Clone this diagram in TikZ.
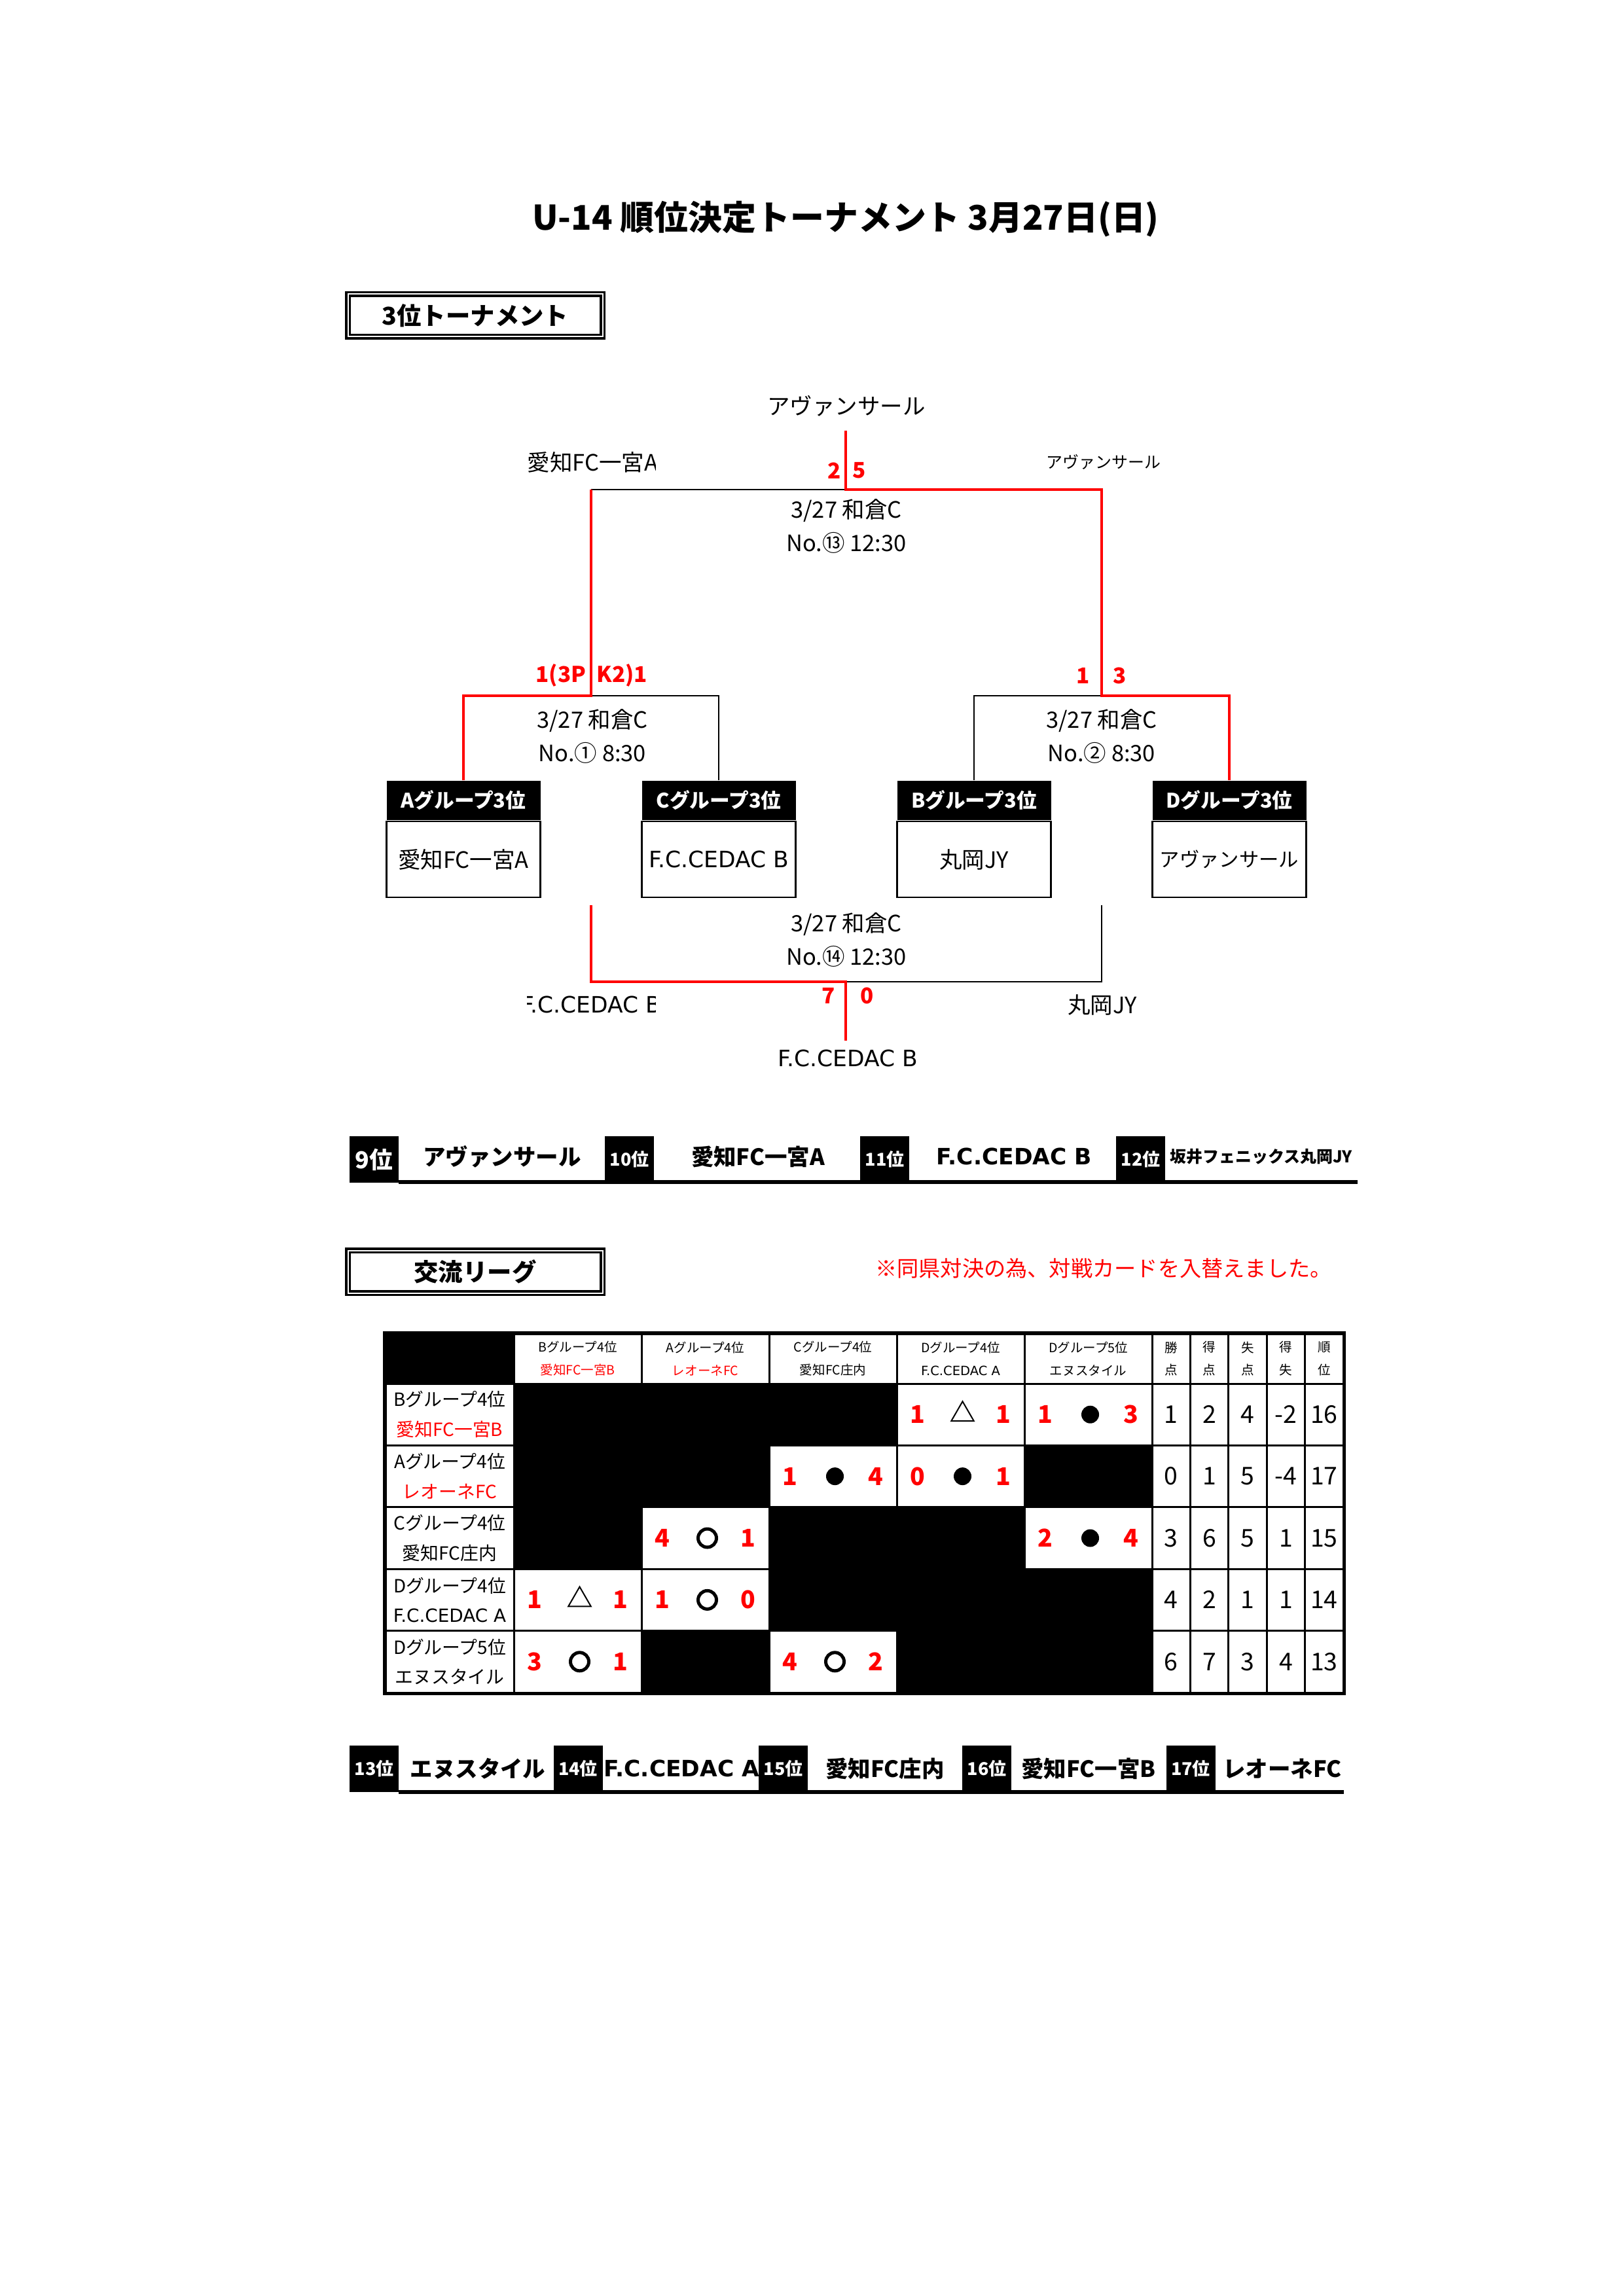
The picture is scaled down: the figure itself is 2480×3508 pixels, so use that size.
\documentclass[tikz,border=0pt]{standalone}
\usepackage{fontspec}
\setmainfont{Noto Sans CJK JP}
\newfontfamily\lat{DejaVu Sans}
\usetikzlibrary{positioning,shapes.geometric}
\newlength\pxl \setlength\pxl{0.24088pt}

\begin{document}
\begin{tikzpicture}[x=0.24088pt,y=-0.24088pt,
  win/.style={red,line width=1.15pt},
  lose/.style={line width=.7pt},
  lbl/.style={font=\fontsize{8.3}{12.2}\selectfont,inner sep=0pt,align=center},
  sc/.style={red,font=\bfseries\fontsize{8}{9}\selectfont,inner sep=0pt},
  grp/.style={fill=black,text=white,font=\bfseries\fontsize{7.4}{9}\selectfont,minimum width=235*\pxl,minimum height=60*\pxl,inner sep=0pt},
  team/.style={draw,line width=.6pt,font=\fontsize{8.3}{10}\selectfont,minimum width=235*\pxl,minimum height=116*\pxl,inner sep=0pt},
  secbox/.style={draw,double,line width=3.5*\pxl,double distance=2*\pxl,minimum width=389*\pxl,minimum height=65*\pxl,font=\bfseries\fontsize{9}{11}\selectfont},
  rk/.style={fill=black,text=white,font=\bfseries\fontsize{6.5}{8}\selectfont,minimum width=75*\pxl,minimum height=71*\pxl,inner sep=0pt},
  rt/.style={font=\bfseries\fontsize{8.3}{10}\selectfont,inner sep=0pt},
  hd/.style={fill=white,inner sep=0pt,minimum height=73*\pxl,align=center,font=\fontsize{4.7}{8.4}\selectfont},
  rl/.style={fill=white,inner sep=0pt,minimum width=193*\pxl,minimum height=91.4*\pxl,align=center,font=\fontsize{6.7}{11}\selectfont},
  mc/.style={fill=white,inner sep=0pt,minimum width=192*\pxl,minimum height=91.4*\pxl,font=\bfseries\fontsize{9}{11}\selectfont},
  st/.style={fill=white,inner sep=0pt,minimum width=55.4*\pxl,minimum height=91.4*\pxl,font=\fontsize{9}{11}\selectfont},
  sym o/.style={circle,draw,line width=5*\pxl,minimum size=28*\pxl,inner sep=0pt},
  sym b/.style={circle,fill,minimum size=27*\pxl,inner sep=0pt},
  sym t/.style={regular polygon,regular polygon sides=3,draw,line width=2*\pxl,minimum size=40*\pxl,inner sep=0pt}]
\useasboundingbox (0,0) rectangle (2480,3508);

\node[font=\bfseries\fontsize{12.5}{15}\selectfont] (title) at (1292,335) {U-14 順位決定トーナメント 3月27日(日)};
\node[secbox] (sec1) at (726,482) {3位トーナメント};

% team boxes
\node[grp] (hA) at (708,1223) {Aグループ3位};
\node[team,below=0pt of hA] (nA) {愛知FC一宮A};
\node[grp] (hC) at (1098,1223) {Cグループ3位};
\node[team,below=0pt of hC] (nC) {\lat F.C.CEDAC B};
\node[grp] (hB) at (1488,1223) {Bグループ3位};
\node[team,below=0pt of hB] (nB) {丸岡JY};
\node[grp] (hD) at (1878,1223) {Dグループ3位};
\node[team,below=0pt of hD,font=\fontsize{7.3}{9}\selectfont] (nD) {アヴァンサール};

% bracket
\coordinate (s1) at (903,1063);
\coordinate (s2) at (1683,1063);
\coordinate (f) at (1292,748);
\coordinate (top) at (1292,658);
\coordinate (c1) at (903,1383);
\coordinate (c2) at (1683,1383);
\coordinate (m) at (1292,1500);
\coordinate (bot) at (1292,1590);
\draw[lose] (s1) -| (hC.north);
\draw[lose] (s2) -| (hB.north);
\draw[lose] (s1 |- f) -- (f);
\draw[win] (hA.north) |- (s1) -- (s1 |- f);
\draw[win] (top) -- (f) -| (s2) -| (hD.north);
\draw[lose] (m) -| (c2);
\draw[win] (c1) |- (m) -- (bot);

% final
\node[lbl] (champ) at (1293,620) {アヴァンサール};
\begin{scope}
\clip (805,680) rectangle (1001,735);
\node[lbl,anchor=west] (fl) at (805,706) {愛知FC一宮A};
\end{scope}
\node[lbl,font=\fontsize{6}{7}\selectfont] (fr) at (1686,706) {アヴァンサール};
\node[sc] (f1) at (1275,719) {2};
\node[sc] (f2) at (1313,719) {5};
\node[lbl] (fi) at (1293,804) {3/27 和倉C\\No.⑬ 12:30};

% semifinals
\node[sc,anchor=east] (a1) at (896,1032) {1(3P};
\node[sc,anchor=west] (a2) at (911,1032) {K2)1};
\node[lbl] (ai) at (905,1125) {3/27 和倉C\\No.① 8:30};
\node[sc] (b1) at (1655,1032) {1};
\node[sc] (b2) at (1711,1032) {3};
\node[lbl] (bi) at (1683,1125) {3/27 和倉C\\No.② 8:30};

% losers' match
\node[lbl] (mi) at (1293,1436) {3/27 和倉C\\No.⑭ 12:30};
\node[sc] (m1) at (1266,1521) {7};
\node[sc] (m2) at (1325,1521) {0};
\begin{scope}
\clip (805,1510) rectangle (1001,1560);
\node[lbl] (ml) at (903,1535) {\lat F.C.CEDAC B};
\end{scope}
\node[lbl] (mr) at (1684,1535) {丸岡JY};
\node[lbl] (third) at (1295,1617) {\lat F.C.CEDAC B};

% 9-12
\node[rk,font=\bfseries\fontsize{8.6}{10}\selectfont] (p9) at (571.5,1771.5) {9位};
\node[rk] (p10) at (961.5,1771.5) {10位};
\node[rk] (p11) at (1351.5,1771.5) {11位};
\node[rk] (p12) at (1742.5,1771.5) {12位};
\fill (609,1803) rectangle (2074,1809);
\node[rt] (t9) at (767,1767) {アヴァンサール};
\node[rt] (t10) at (1158,1767) {愛知FC一宮A};
\node[rt] (t11) at (1549,1767) {\lat\bfseries F.C.CEDAC B};
\node[rt,font=\bfseries\fontsize{6}{7}\selectfont] (t12) at (1927,1767) {坂井フェニックス丸岡JY};

% league
\node[secbox] (sec2) at (726,1943) {交流リーグ};
\node[red,font=\fontsize{8}{10}\selectfont] (note) at (1686,1938) {※同県対決の為、対戦カードを入替えました。};

\fill (585,2034) rectangle (2056,2590);
\foreach \ga/\tn/\cl [count=\i] in {Bグループ4位/愛知FC一宮B/red,Aグループ4位/レオーネFC/red,Cグループ4位/愛知FC庄内/black,Dグループ4位/{\lat F.C.CEDAC A}/black,Dグループ5位/エヌスタイル/black}{
  \node[hd,minimum width=192*\pxl] (h\i) at (687.5+195*\i,2076) {\ga\\\textcolor{\cl}{\tn}};
  \node[rl] (lab\i) at (687,2066.8+94.4*\i) {\ga\\\textcolor{\cl}{\tn}};
}
\foreach \ta/\tb [count=\j] in {勝/点,得/点,失/点,得/失,順/位}
  \node[hd,minimum width=55.4*\pxl] (k\j) at (1730.8+58.4*\j,2076) {\ta\\\tb};
\foreach \r/\k/\sa/\sy/\sb in {1/4/1/t/1,1/5/1/b/3,2/3/1/b/4,2/4/0/b/1,3/2/4/o/1,3/5/2/b/4,4/1/1/t/1,4/2/1/o/0,5/1/3/o/1,5/3/4/o/2}{
  \node[mc] (g\r\k) at (687.5+195*\k,2066.8+94.4*\r) {\hbox to 154\pxl{\color{red}\sa\hfil\sb}};
  \node[sym \sy] (y\r\k) at ([xshift=3*\pxl]g\r\k.center) {};
}
\foreach \r/\va/\vb/\vc/\vd/\ve in {1/1/2/4/-2/16,2/0/1/5/-4/17,3/3/6/5/1/15,4/4/2/1/1/14,5/6/7/3/4/13}
  \foreach \val [count=\j] in {\va,\vb,\vc,\vd,\ve}
    \node[st] (v\r\j) at (1730.8+58.4*\j,2066.8+94.4*\r) {\val};

% 13-17
\node[rk] (p13) at (571.5,2702.5) {13位};
\node[rk] (p14) at (883,2702.5) {14位};
\node[rk] (p15) at (1196.5,2702.5) {15位};
\node[rk] (p16) at (1507.5,2702.5) {16位};
\node[rk] (p17) at (1819,2702.5) {17位};
\fill (609,2735) rectangle (2053,2741);
\node[rt] (t13) at (730,2702) {エヌスタイル};
\node[rt] (t14) at (1041,2702) {\lat\bfseries F.C.CEDAC A};
\node[rt] (t15) at (1352,2702) {愛知FC庄内};
\node[rt] (t16) at (1663,2702) {愛知FC一宮B};
\node[rt] (t17) at (1959,2702) {レオーネFC};
\end{tikzpicture}
\end{document}
